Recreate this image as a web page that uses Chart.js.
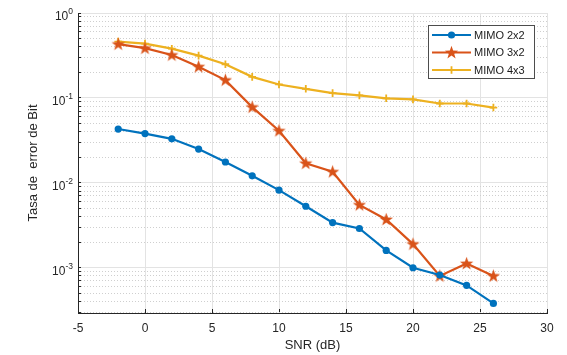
<!DOCTYPE html>
<html>
<head>
<meta charset="utf-8">
<script src="https://cdn.jsdelivr.net/npm/chart.js@4.4.0/dist/chart.umd.min.js"></script>
<style>
  html, body { margin: 0; padding: 0; background: #fff; }
</style>
</head>
<body>
<canvas id="ber_chart" width="567" height="355"></canvas>
<script>
// values
const snr = [-2, 0, 2, 4, 6, 8, 10, 12, 14, 16, 18, 20, 22, 24, 26];
const mimo2x2 = [0.043, 0.038, 0.033, 0.025, 0.0176, 0.0121, 0.0082, 0.0053, 0.0034, 0.0029, 0.0016, 0.0010, 0.00082, 0.00062, 0.00038];
const mimo3x2 = [0.43, 0.385, 0.32, 0.233, 0.162, 0.078, 0.041, 0.017, 0.0135, 0.0055, 0.0037, 0.0019, 0.00080, 0.00112, 0.00080];
const mimo4x3 = [0.46, 0.436, 0.38, 0.315, 0.249, 0.177, 0.144, 0.128, 0.114, 0.107, 0.099, 0.096, 0.086, 0.086, 0.077];
const seriesNames = ['MIMO 2x2', 'MIMO 3x2', 'MIMO 4x3'];
const yTickExps = [0, -1, -2, -3];

const FONT = "'Liberation Sans', Arial, Helvetica, sans-serif";
const AXIS = '#262626';
const BLUE = '#0072BD', RED = '#D95319', YELLOW = '#EDB120';

function isDecade(v) {
  const l = Math.log10(v);
  return Math.abs(l - Math.round(l)) < 1e-9;
}
function isMinor(v) {
  const e = Math.floor(Math.log10(v) + 1e-9);
  const s = v / Math.pow(10, e);
  const r = Math.round(s);
  return Math.abs(s - r) < 1e-6 && r >= 2 && r <= 9;
}

// filled five point star, matlab style
function makeStar(color) {
  const c = document.createElement('canvas');
  c.width = 15; c.height = 15;
  const g = c.getContext('2d');
  g.beginPath();
  for (let i = 0; i < 10; i++) {
    const r = i % 2 === 0 ? 7 : 2.8;
    const a = -Math.PI / 2 + i * Math.PI / 5;
    const px = 7.5 + r * Math.cos(a), py = 7.8 + r * Math.sin(a);
    if (i === 0) g.moveTo(px, py); else g.lineTo(px, py);
  }
  g.closePath();
  g.fillStyle = color;
  g.fill();
  return c;
}
const star = makeStar(RED);

const toPoints = vals => vals.map((v, i) => ({x: snr[i], y: v}));

const data = {
  datasets: [
    {label: seriesNames[0], data: toPoints(mimo2x2), borderColor: BLUE, backgroundColor: BLUE,
     pointStyle: 'circle', pointRadius: 3.6, borderWidth: 2.2, pointBorderWidth: 0},
    {label: seriesNames[1], data: toPoints(mimo3x2), borderColor: RED, backgroundColor: RED,
     pointStyle: star, borderWidth: 2.2},
    {label: seriesNames[2], data: toPoints(mimo4x3), borderColor: YELLOW, backgroundColor: YELLOW,
     pointStyle: 'cross', pointRadius: 3.8, borderWidth: 2.2, pointBorderWidth: 1.8}
  ]
};

// tick labels 10^n with superscript
const yLabels = {
  id: 'yLabels',
  afterDraw(chart) {
    const ctx = chart.ctx, sc = chart.scales.y;
    ctx.save();
    ctx.fillStyle = AXIS;
    ctx.textBaseline = 'middle';
    for (const e of yTickExps) {
      const y = sc.getPixelForValue(Math.pow(10, e));
      ctx.font = '8.5px ' + FONT;
      const sup = String(e);
      const sw = ctx.measureText(sup).width;
      ctx.textAlign = 'left';
      ctx.fillText(sup, 73 - sw, y - 1);
      ctx.font = '12px ' + FONT;
      ctx.textAlign = 'right';
      ctx.fillText('10', 73 - sw, y + 3.5);
    }
    ctx.restore();
  }
};

// boxed legend inside the axes, top right
const boxLegend = {
  id: 'boxLegend',
  afterDraw(chart) {
    const ctx = chart.ctx;
    const x0 = 428.5, y0 = 25.5, w = 106, h = 53;
    ctx.save();
    ctx.fillStyle = '#fff';
    ctx.fillRect(x0, y0, w, h);
    ctx.strokeStyle = '#4d4d4d';
    ctx.lineWidth = 1;
    ctx.strokeRect(x0, y0, w, h);
    ctx.font = '11px ' + FONT;
    ctx.textBaseline = 'middle';
    ctx.textAlign = 'left';
    chart.data.datasets.forEach((ds, i) => {
      const y = 35 + i * 17.5;
      ctx.strokeStyle = ds.borderColor;
      ctx.fillStyle = ds.borderColor;
      ctx.lineWidth = 2.2;
      ctx.beginPath();
      ctx.moveTo(432, y); ctx.lineTo(471, y);
      ctx.stroke();
      const mx = 451.5;
      if (ds.pointStyle === 'circle') {
        ctx.beginPath(); ctx.arc(mx, y, 3.6, 0, Math.PI * 2); ctx.fill();
      } else if (ds.pointStyle === 'cross') {
        ctx.lineWidth = 1.8;
        ctx.beginPath();
        ctx.moveTo(mx - 3.8, y); ctx.lineTo(mx + 3.8, y);
        ctx.moveTo(mx, y - 3.8); ctx.lineTo(mx, y + 3.8);
        ctx.stroke();
      } else {
        ctx.drawImage(ds.pointStyle, mx - 7.5, y - 7.5);
      }
      ctx.fillStyle = '#1a1a1a';
      ctx.fillText(ds.label, 474, y + 0.5);
    });
    ctx.restore();
  }
};

const config = {
  type: 'line',
  data: data,
  options: {
    responsive: false,
    animation: false,
    layout: {padding: {top: 13, right: 20, left: 0, bottom: 0}},
    plugins: {legend: {display: false}, tooltip: {enabled: false}},
    elements: {line: {tension: 0}},
    scales: {
      x: {
        type: 'linear',
        min: -5,
        max: 30,
        ticks: {stepSize: 5, color: AXIS, font: {family: FONT, size: 12}, padding: 12, maxRotation: 0},
        grid: {color: '#e3e3e3', tickColor: AXIS, tickLength: -4},
        border: {color: AXIS, width: 1},
        title: {display: true, text: 'SNR (dB)', color: AXIS, font: {family: FONT, size: 13}, padding: {top: 2, bottom: 2}},
        afterFit: s => { s.height = 42; }
      },
      y: {
        type: 'logarithmic',
        position: 'left',
        min: Math.pow(10, -3.533),
        max: 1,
        ticks: {display: false},
        grid: {
          color: c => isDecade(c.tick.value) ? '#e3e3e3' : 'rgba(0,0,0,0)',
          tickColor: c => (isDecade(c.tick.value) || isMinor(c.tick.value)) ? AXIS : 'rgba(0,0,0,0)',
          tickLength: -3
        },
        border: {color: AXIS, width: 1},
        title: {display: true, text: 'Tasa de  error de Bit', color: AXIS, font: {family: FONT, size: 13}, padding: {top: 26, bottom: 26}},
        afterFit: s => { s.width = 78; }
      },
      y2: {
        type: 'logarithmic',
        position: 'left',
        min: Math.pow(10, -3.533),
        max: 1,
        ticks: {display: false},
        grid: {
          color: c => isMinor(c.tick.value) ? '#cfcfcf' : 'rgba(0,0,0,0)',
          drawTicks: false
        },
        border: {display: false, dash: [1, 2]},
        afterFit: s => { s.width = 0; }
      }
    }
  },
  plugins: [yLabels, boxLegend]
};

new Chart(document.getElementById('ber_chart'), config);
</script>
</body>
</html>
